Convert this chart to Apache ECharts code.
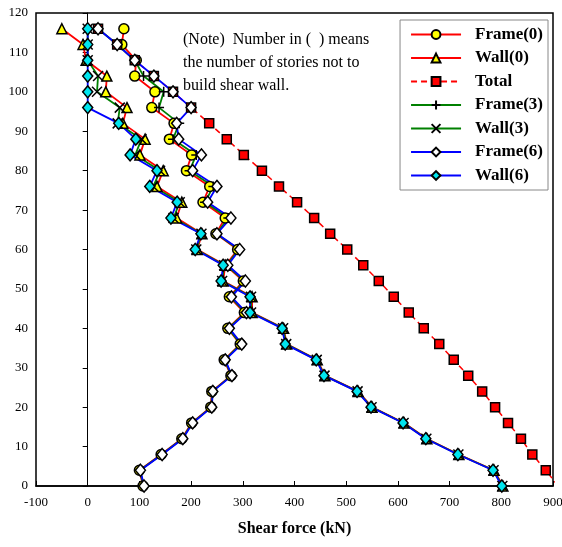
<!DOCTYPE html>
<html>
<head>
<meta charset="utf-8">
<script src="https://cdn.jsdelivr.net/npm/echarts@6/dist/echarts.min.js"></script>
<style>
  html, body {margin: 0; padding: 0; background: #fff;}
  #chart {width: 562px; height: 547px;}
</style>
</head>
<body>
<div id="chart"></div>
<script>
// building heights (m), one value per storey level
const heights = [0, 4, 8, 12, 16, 20, 24, 28, 32, 36, 40, 44, 48, 52, 56, 60, 64, 68, 72, 76, 80, 84, 88, 92, 96, 100, 104, 108, 112, 116]

// shear force (kN)
const total   = [910, 886, 860, 838, 813, 788, 763, 736, 708, 680, 650, 621, 592, 563, 533, 502, 469, 438, 405, 370, 337, 302, 269, 235, 200, 165, 128, 91, 57, 20]
const frame0  = [107, 100, 142, 182, 201, 238, 240, 277, 264, 295, 271, 303, 274, 301, 267, 290, 248, 266, 223, 236, 191, 201, 158, 167, 124, 130, 91, 94, 66, 70]
const wall0   = [803, 786, 718, 656, 612, 550, 523, 459, 444, 385, 379, 318, 318, 262, 266, 212, 221, 172, 182, 134, 146, 101, 111, 68, 76, 35, 37, -3, -9, -50]
const frame3  = [108, 101, 143, 183, 202, 239, 241, 278, 265, 296, 272, 305, 276, 303, 269, 292, 249, 272, 227, 243, 197, 210, 165, 177, 138, 147, 108, 91, 57, 20]
const wall3   = [802, 785, 717, 655, 611, 549, 522, 458, 443, 384, 378, 316, 316, 260, 264, 210, 220, 166, 178, 127, 140, 92, 104, 58, 62, 18, 20, 0, 0, 0]
const frame6  = [109, 102, 144, 184, 203, 240, 242, 279, 266, 298, 274, 307, 278, 305, 271, 294, 250, 277, 232, 250, 203, 220, 176, 172, 200, 165, 128, 91, 57, 20]
const wall6   = [801, 784, 716, 654, 610, 548, 521, 457, 442, 382, 376, 314, 314, 258, 262, 208, 219, 161, 173, 120, 134, 82, 93, 60, 0, 0, 0, 0, 0, 0]

const noteLines = ['(Note)  Number in (  ) means', 'the number of stories not to', 'build shear wall.']

const serif = '"Liberation Serif", "DejaVu Serif", serif'
const plusPath = 'path://M5,0L5,10M0,5L10,5'
const crossPath = 'path://M0,0L10,10M10,0L0,10'

function pairs(xs) {
    return xs.map((v, i) => [v, heights[i]])
}

function makeSeries(name, values, color, symbol, fill, size, dashed) {
    return {
        name: name,
        type: 'line',
        data: pairs(values),
        symbol: symbol,
        symbolSize: size,
        clip: true,
        lineStyle: {color: color, width: dashed ? 1.5 : 1.8, type: dashed ? [6, 4] : 'solid'},
        itemStyle: {color: fill, borderColor: '#000', borderWidth: 1.5},
        emphasis: {disabled: true},
        animation: false,
    }
}

let chart = echarts.init(document.getElementById('chart'), null, {renderer: 'canvas'})

chart.setOption({
    backgroundColor: '#fff',
    animation: false,
    grid: {
        left: 36, right: 9, top: 13, bottom: 61,
        outerBoundsMode: 'none', containLabel: false,
        show: true, borderColor: '#000', borderWidth: 1.5, backgroundColor: 'transparent',
    },
    xAxis: {
        type: 'value', min: -100, max: 900, interval: 100,
        name: 'Shear force (kN)', nameLocation: 'middle', nameGap: 35,
        nameTextStyle: {fontFamily: serif, fontWeight: 'bold', fontSize: 16, color: '#000'},
        axisLine: {show: true, onZero: false, lineStyle: {color: '#000', width: 1.5}},
        axisTick: {show: true, inside: true, length: 5, lineStyle: {color: '#000'}},
        axisLabel: {fontFamily: serif, fontSize: 13, color: '#000', margin: 10},
        splitLine: {show: false},
    },
    yAxis: {
        type: 'value', min: 0, max: 120, interval: 10,
        name: 'Building height (m)', nameLocation: 'middle', nameGap: 72, nameRotate: 90,
        nameTextStyle: {fontFamily: serif, fontWeight: 'bold', fontSize: 16, color: '#000'},
        axisLine: {show: true, onZero: true, lineStyle: {color: '#000', width: 1}},
        axisTick: {show: true, inside: false, length: 5, lineStyle: {color: '#000'}},
        axisLabel: {fontFamily: serif, fontSize: 13, color: '#000', margin: 8},
        splitLine: {show: false},
    },
    legend: {
        orient: 'vertical',
        right: 14, top: 20,
        backgroundColor: '#fff',
        borderColor: '#888', borderWidth: 1,
        padding: [6, 5, 6, 10],
        itemWidth: 50, itemHeight: 11, itemGap: 6.5,
        textStyle: {fontFamily: serif, fontWeight: 'bold', fontSize: 17, color: '#000', padding: [0, 0, 0, 9]},
        data: ['Frame(0)', 'Wall(0)', 'Total', 'Frame(3)', 'Wall(3)', 'Frame(6)', 'Wall(6)'],
    },
    graphic: noteLines.map((t, i) => ({
        type: 'text',
        left: 183, top: 32 + i * 23,
        style: {text: t, fontFamily: serif, fontSize: 16, fill: '#000'},
    })),
    series: [
        makeSeries('Frame(0)', frame0, '#ff0000', 'circle', '#ffff00', 10),
        makeSeries('Wall(0)', wall0, '#ff0000', 'triangle', '#ffff00', 10),
        makeSeries('Total', total, '#ff0000', 'rect', '#ff0000', 9, true),
        makeSeries('Frame(3)', frame3, '#008000', plusPath, 'none', 10),
        makeSeries('Wall(3)', wall3, '#008000', crossPath, 'none', 10),
        makeSeries('Frame(6)', frame6, '#0000ff', 'diamond', '#ffffff', [10, 12]),
        makeSeries('Wall(6)', wall6, '#0000ff', 'diamond', '#00e5ee', [10, 12]),
    ],
})
</script>
</body>
</html>
